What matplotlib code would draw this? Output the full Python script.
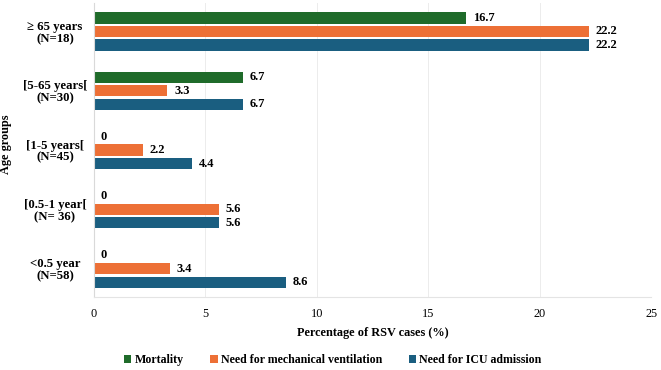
import matplotlib.pyplot as plt
import numpy as np

plt.rcParams['font.family'] = ['Liberation Serif', 'DejaVu Serif']

# data, bottom group first
groups = ['<0.5 year\n(N=58)', '[0.5-1 year[\n(N= 36)', '[1-5 years[\n(N=45)',
          '[5-65 years[\n(N=30)', '\u2265 65 years\n(N=18)']
mortality = [0, 0, 0, 6.7, 16.7]
ventilation = [3.4, 5.6, 2.2, 3.3, 22.2]
icu = [8.6, 5.6, 4.4, 6.7, 22.2]

series = [('Mortality', mortality, '#1f6b2a'),
          ('Need for mechanical ventilation', ventilation, '#ed7036'),
          ('Need for ICU admission', icu, '#1a5e80')]

fig = plt.figure(figsize=(6.61, 3.70), dpi=100)
ax = fig.add_axes([0.142, 0.197, 0.843, 0.795])

y = np.arange(len(groups))
step = 0.228
h = 0.19
for i, (name, vals, col) in enumerate(series):
    pos = y + (1 - i) * step
    ax.barh(pos, vals, height=h, color=col, label=name)
    for p, v in zip(pos, vals):
        ax.text(v + 0.3, p, f'{v:g}', va='center', ha='left',
                fontsize=9, fontweight='bold')

ax.set_xlim(0, 25)
ax.set_ylim(-0.48, 4.48)
ax.set_xticks(range(0, 26, 5))
ax.set_yticks(y)
ax.set_yticklabels(groups, fontweight='bold', fontsize=9.2, ha='center', linespacing=1.0)
ax.tick_params(axis='y', length=0, pad=28)
ax.tick_params(axis='x', length=0, labelsize=8.8, pad=8)
ax.xaxis.grid(True, color='#ececec', lw=0.7)
ax.set_axisbelow(True)
for s in ['top', 'right']:
    ax.spines[s].set_visible(False)
ax.spines['left'].set_color('#d9d9d9')
ax.spines['bottom'].set_color('#e4e4e4')
ax.set_xlabel('Percentage of RSV cases (%)', fontweight='bold', fontsize=8.8)
ax.xaxis.set_label_coords(0.5, -0.1)
ax.set_ylabel('Age groups', fontweight='bold', fontsize=8.8)
ax.yaxis.set_label_coords(-0.147, 0.52)

ax.legend(loc='center', bbox_to_anchor=(0.429, -0.214), ncol=3, frameon=False,
          prop={'weight': 'bold', 'size': 8.6}, handlelength=0.6, handleheight=0.6,
          handletextpad=0.3, columnspacing=2.2)

fig.savefig('out.png', dpi=100)
